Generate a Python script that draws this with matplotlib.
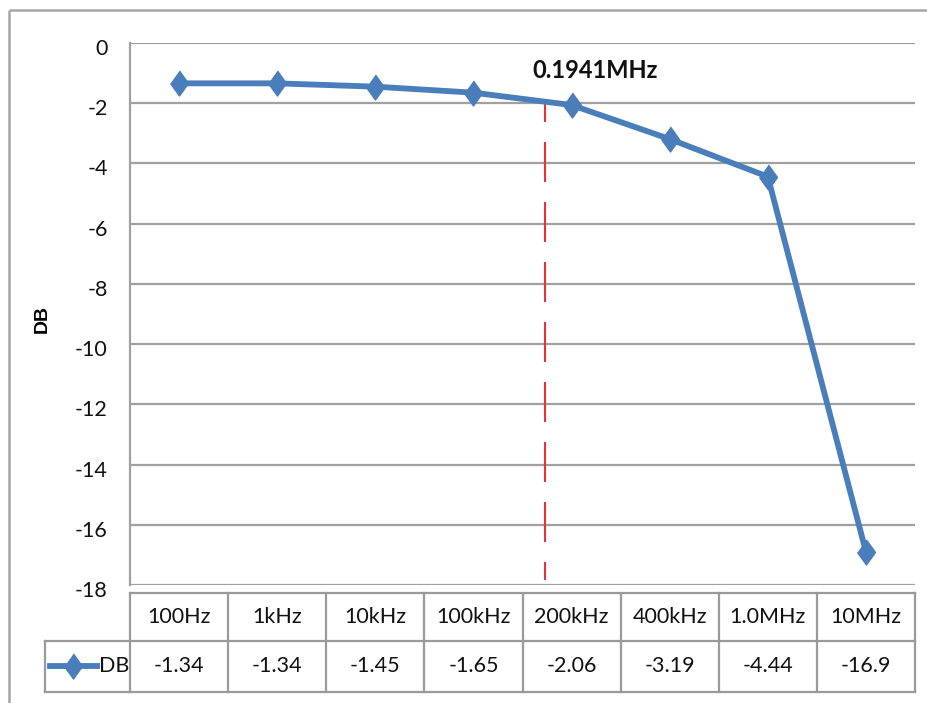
import numpy as np
import matplotlib
matplotlib.use("Agg")
import matplotlib.pyplot as plt
import matplotlib.transforms as mtransforms
from matplotlib.lines import Line2D

plt.rcParams['font.family'] = ['Lato', 'DejaVu Sans']

# frequency response data
freqs = ["100Hz", "1kHz", "10kHz", "100kHz", "200kHz", "400kHz", "1.0MHz", "10MHz"]
db = [-1.34, -1.34, -1.45, -1.65, -2.06, -3.19, -4.44, -16.9]
series_name = "DB"
yticks = [0, -2, -4, -6, -8, -10, -12, -14, -16, -18]
cutoff_label = "0.1941MHz"
cutoff_pos = 3.73  # position of the -3dB point along the category axis

BLUE = "#4A7EBB"
GRID = "#A0A0A0"
RED = "#E5323B"
TXT = "#111111"
FS = 15.5
W, H = 927, 703

fig = plt.figure(figsize=(W / 100, H / 100), dpi=100)
fig.patch.set_facecolor("white")

ax = fig.add_axes([130 / W, 118 / H, 785 / W, 542 / H])
x = np.arange(len(freqs))

# diamond marker, taller than wide
diamond = [(0, 1), (0.72, 0), (0, -1), (-0.72, 0)]

ax.plot(x, db, color=BLUE, lw=4.2, marker=diamond, markersize=18,
        markerfacecolor=BLUE, markeredgecolor=BLUE, zorder=4,
        solid_joinstyle="round")

# dashed marker for the cutoff frequency
y_top = np.interp(cutoff_pos, x, db)
ax.plot([cutoff_pos, cutoff_pos], [y_top, -17.85], color=RED, lw=1.5,
        linestyle=(9.6, (19.2, 9.6)), zorder=3)
ax.text(4.24, -0.9, cutoff_label, fontsize=17, fontweight="bold",
        ha="center", va="center", color=TXT)

ax.set_xlim(-0.5, len(freqs) - 0.5)
ax.set_ylim(-18, 0)
ax.set_yticks(yticks)
ax.set_yticklabels([str(t) for t in yticks])
ax.set_xticks([])
ax.yaxis.grid(True, color=GRID, lw=1.6)
ax.set_axisbelow(True)
ax.tick_params(axis="y", length=0, pad=16, labelsize=FS, labelcolor=TXT)
offset = mtransforms.ScaledTranslation(0, -4 / 100, fig.dpi_scale_trans)
for lbl in ax.get_yticklabels():
    lbl.set_transform(lbl.get_transform() + offset)
for side in ["top", "right", "bottom"]:
    ax.spines[side].set_visible(False)
ax.spines["left"].set_color(GRID)
ax.spines["left"].set_linewidth(1.6)

ax.set_ylabel(series_name, fontsize=14, fontweight="bold",
              family="Liberation Sans")
ax.yaxis.set_label_coords(-0.1006, 0.49)

# overlay in pixel coordinates for the data table and outer frame
ov = fig.add_axes([0, 0, 1, 1], facecolor="none")
ov.set_xlim(0, W)
ov.set_ylim(H, 0)
ov.axis("off")

# outer chart frame
ov.plot([9, 9], [10, H + 5], color="#A6A6A6", lw=1.8, clip_on=False,
        solid_capstyle="butt")
ov.plot([9, W + 5], [10, 10], color="#A6A6A6", lw=1.8, clip_on=False,
        solid_capstyle="butt")

# table columns follow the category axis
tt = mtransforms.blended_transform_factory(ax.transData, ov.transData)
top, mid, bot = 593, 641, 692
n = len(freqs)
tcol = "#9A9A9A"
for yy in (top, mid, bot):
    ov.plot([-0.5, n - 0.5], [yy, yy], color=tcol, lw=1.6, transform=tt)
for i in range(n + 1):
    ov.plot([i - 0.5, i - 0.5], [top, bot], color=tcol, lw=1.6, transform=tt)
for i, (f, v) in enumerate(zip(freqs, db)):
    ov.text(i, 617, f, transform=tt, ha="center", va="center",
            fontsize=FS, color=TXT)
    ov.text(i, 666, f"{v:g}", transform=tt, ha="center", va="center",
            fontsize=FS, color=TXT)

# legend key cell
ov.plot([45, 130], [mid, mid], color=tcol, lw=1.6)
ov.plot([45, 130], [bot, bot], color=tcol, lw=1.6)
ov.plot([45, 45], [mid, bot], color=tcol, lw=1.6)
ov.add_line(Line2D([50, 97], [666, 666], color=BLUE, lw=4.2))
ov.plot([73], [666], marker=diamond, markersize=18, color=BLUE)
ov.text(99, 666, series_name, ha="left", va="center", fontsize=FS,
        color=TXT)

fig.savefig("out.png", dpi=100, facecolor="white")
